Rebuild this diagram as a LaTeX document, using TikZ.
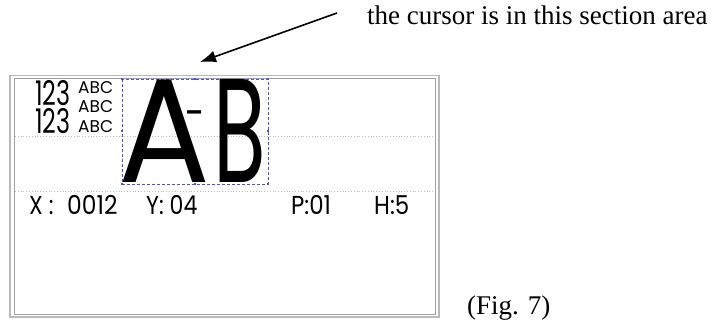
\documentclass[tikz,border=0pt]{standalone}
\usepackage{fontspec}
\usepackage{graphicx}
\setmainfont{Liberation Serif}
\newfontfamily\lcdfont{Poppins}
\usetikzlibrary{arrows.meta,positioning}

\newcommand{\narrowtext}[2]{\scalebox{#1}[1]{#2}}

\tikzset{
  lcd/.style={inner sep=0pt,anchor=base west,font=\lcdfont},
  handle/.style={fill=blue!70,minimum size=2pt,inner sep=0pt},
  dotline/.style={gray!50,line width=0.8pt,dotted},
}

\begin{document}
\begin{tikzpicture}[x=1pt,y=-1pt,>=Latex]
\useasboundingbox (0,0) rectangle (725,320);
% screen frame
\draw[gray!55,line width=1.2pt] (10,75.5) rectangle (439,317);
\draw[gray!75,line width=0.8pt] (14,78.5) rectangle (435,314.5);
\draw[dotline] (15,136) -- (434,136);
\draw[dotline] (15,191) -- (434,191);
% selected section
\draw[blue!70,densely dashed,line width=0.5pt] (122,79) rectangle (268,184);
\foreach \hx/\hy in {122/79,195/79,268/79,122/131.5,268/131.5,122/184,195/184,268/184}
  \node[handle] at (\hx,\hy) {};
\node[lcd,font=\lcdfont\fontsize{148}{148}\selectfont] (letA) at (118,183) {\narrowtext{0.92}{A}};
\node[lcd,anchor=north,font=\lcdfont\fontsize{44}{44}\selectfont] (dash) at (195,110) {\narrowtext{0.8}{-}};
\node[lcd,font=\lcdfont\fontsize{148}{148}\selectfont] (letB) at (213,183) {\narrowtext{0.58}{B}};
% small lines
\node[lcd,font=\lcdfont\fontsize{34}{34}\selectfont] (numA) at (35,106) {\narrowtext{0.7}{123}};
\node[lcd,font=\lcdfont\fontsize{34}{34}\selectfont] (numB) at (35,134) {\narrowtext{0.7}{123}};
\node[lcd,font=\lcdfont\fontsize{17}{17}\selectfont] (abcA) at (78,94) {ABC};
\node[lcd,font=\lcdfont\fontsize{17}{17}\selectfont] (abcB) at (78,113) {ABC};
\node[lcd,font=\lcdfont\fontsize{17}{17}\selectfont] (abcC) at (78,133) {ABC};
% status line
\node[lcd,font=\lcdfont\fontsize{26}{26}\selectfont] (xlab) at (29,215) {\narrowtext{0.85}{X :}};
\node[lcd,font=\lcdfont\fontsize{26}{26}\selectfont] (xval) at (67,215) {\narrowtext{0.9}{0012}};
\node[lcd,font=\lcdfont\fontsize{26}{26}\selectfont] (ylab) at (146,215) {\narrowtext{0.85}{Y: 04}};
\node[lcd,font=\lcdfont\fontsize{26}{26}\selectfont] (plab) at (291,215) {\narrowtext{0.88}{P:01}};
\node[lcd,font=\lcdfont\fontsize{26}{26}\selectfont] (hlab) at (374,215) {\narrowtext{0.88}{H:5}};
% note and arrow
\node[inner sep=0pt,anchor=base west,font=\fontsize{27}{27}\selectfont] (note) at (367,25) {the cursor is in this section area};
\node[inner sep=0pt,anchor=base west,font=\fontsize{27}{27}\selectfont] (fig) at (467,314) {(Fig. 7)};
\coordinate (tail) at (337,13);
\coordinate (tip) at (200,62);
\draw[-{Latex[length=16pt,width=12pt]},line width=1.6pt] (tail) -- (tip);
\end{tikzpicture}
\end{document}
